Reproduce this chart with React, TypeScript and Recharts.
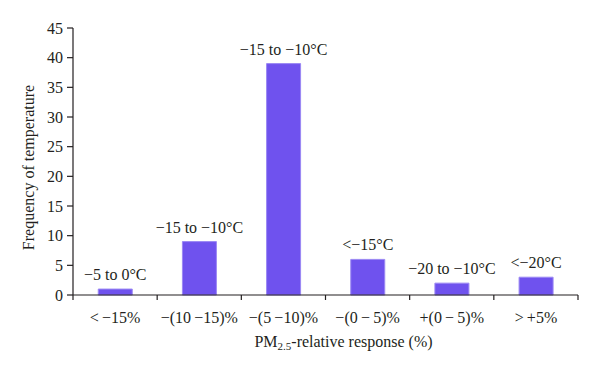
import React from 'react';
import { BarChart, Bar, XAxis, YAxis, LabelList, Label } from 'recharts';

const categories = ['<\u2009\u221215%', '\u2212(10\u2009\u221215)%', '\u2212(5\u2009\u221210)%', '\u2212(0\u2009\u2212\u20095)%', '+(0\u2009\u2212\u20095)%', '>\u2009+5%'];
const frequency = [1, 9, 39, 6, 2, 3];
const tempLabels = ['\u22125 to 0\u00b0C', '\u221215 to \u221210\u00b0C', '\u221215 to \u221210\u00b0C', '<\u221215\u00b0C', '\u221220 to \u221210\u00b0C', '<\u221220\u00b0C'];
const yTicks = [0, 5, 10, 15, 20, 25, 30, 35, 40, 45];

const data = categories.map((c, i) => ({ name: c, freq: frequency[i], temp: tempLabels[i] }));

const W = 600;
const H = 370;
const Y_AXIS_W = 73;
const MARGIN = { top: 28, right: 22, bottom: 15, left: 0 };
const BAND = (W - Y_AXIS_W - MARGIN.right - MARGIN.left) / categories.length;
const FONT = '"Liberation Serif", "DejaVu Serif", serif';
const INK = '#231f20';
const FS = 16;

const CategoryTick = (props: any) => {
  const { x, y, payload, index } = props;
  const axisY = y - 8;
  return (
    <g>
      <line x1={x - BAND / 2} y1={axisY} x2={x - BAND / 2} y2={axisY + 5} stroke={INK} strokeWidth={1.2} />
      {index === categories.length - 1 && (
        <line x1={x + BAND / 2} y1={axisY} x2={x + BAND / 2} y2={axisY + 5} stroke={INK} strokeWidth={1.2} />
      )}
      <text x={x} y={y + 20} textAnchor="middle" fill={INK} fontSize={FS} fontFamily={FONT}>
        {payload.value}
      </text>
    </g>
  );
};

const XTitle = (props: any) => {
  const { viewBox } = props;
  const cx = viewBox.x + viewBox.width / 2 + 18;
  return (
    <text x={cx} y={viewBox.y + 52} textAnchor="middle" fill={INK} fontSize={FS} fontFamily={FONT}>
      PM<tspan fontSize={11} dy={3}>2.5</tspan>
      <tspan dy={-3}>-relative response (%)</tspan>
    </text>
  );
};

const TempLabel = (props: any) => {
  const { x, y, width, value } = props;
  return (
    <text x={x + width / 2} y={y - 9} textAnchor="middle" fill={INK} fontSize={FS} fontFamily={FONT}>
      {value}
    </text>
  );
};

export default function App() {
  return (
    <div style={{ position: 'absolute', left: 0, top: 0, width: W, height: H, background: '#fff' }}>
      <BarChart width={W} height={H} data={data} margin={MARGIN} barCategoryGap="30%">
        <XAxis
          dataKey="name"
          interval={0}
          height={60}
          tickLine={false}
          axisLine={{ stroke: INK, strokeWidth: 1.2 }}
          tick={<CategoryTick />}
        >
          <Label content={<XTitle />} />
        </XAxis>
        <YAxis
          width={Y_AXIS_W}
          domain={[0, 45]}
          ticks={yTicks}
          interval={0}
          tickSize={6}
          tickMargin={4}
          axisLine={{ stroke: INK, strokeWidth: 1.2 }}
          tickLine={{ stroke: INK, strokeWidth: 1.2 }}
          tick={{ fill: INK, fontSize: FS, fontFamily: FONT }}
        >
          <Label
            value="Frequency of temperature"
            angle={-90}
            position="center"
            dx={-8}
            dy={6}
            fill={INK}
            fontSize={FS}
            fontFamily={FONT}
          />
        </YAxis>
        <Bar dataKey="freq" fill="#6f52ee" stroke="#9b88f3" strokeWidth={1} isAnimationActive={false}>
          <LabelList dataKey="temp" content={<TempLabel />} />
        </Bar>
      </BarChart>
    </div>
  );
}
